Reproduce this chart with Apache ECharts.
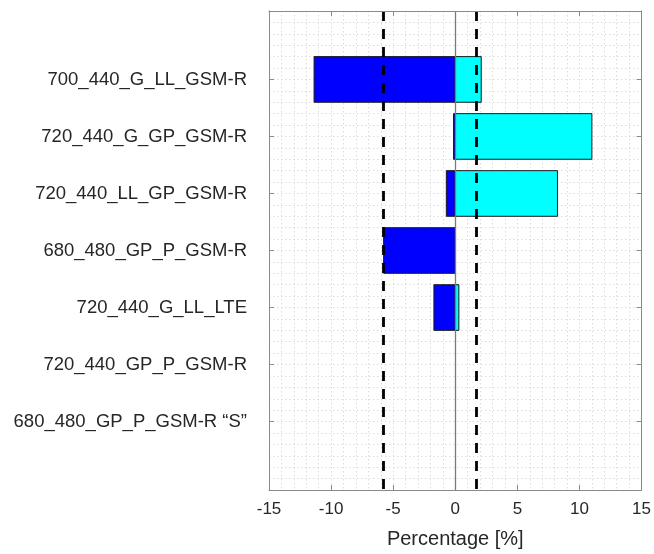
<!DOCTYPE html>
<html>
<head>
<meta charset="utf-8">
<script src="https://cdn.jsdelivr.net/npm/echarts@6/dist/echarts.min.js"></script>
<style>html,body{margin:0;padding:0;background:#fff}#c{width:654px;height:554px}</style>
</head>
<body>
<div id="c"></div>
<script>
const categories = [
  '700_440_G_LL_GSM-R',
  '720_440_G_GP_GSM-R',
  '720_440_LL_GP_GSM-R',
  '680_480_GP_P_GSM-R',
  '720_440_G_LL_LTE',
  '720_440_GP_P_GSM-R',
  '680_480_GP_P_GSM-R \u201cS\u201d'
];
const negativeValues = [-11.37, -0.14, -0.72, -5.77, -1.72, 0, 0];
const positiveValues = [2.09, 11.0, 8.23, 0, 0.29, 0, 0];
const thresholds = [-5.8, 1.7];
const xTicks = [-15, -10, -5, 0, 5, 10, 15];
const yPositions = categories.map((c, i) => i + 1);

const font = '"Liberation Sans", Arial, Helvetica, sans-serif';
const textColor = '#262626';
const frameColor = '#8a8a8a';
const gridLine = {show: true, lineStyle: {color: '#dcdcdc', type: [1.5, 2.5], width: 1}};

function makeData(vals) {
  const out = [];
  vals.forEach((v, i) => { if (v !== 0) out.push([yPositions[i], 0, v]); });
  return out;
}
function renderBar(color) {
  return function (params, api) {
    const y = api.value(0), x0 = api.value(1), x1 = api.value(2);
    const p0 = api.coord([x0, y]);
    const p1 = api.coord([x1, y]);
    const h = api.size([0, 0.8])[1];
    return {
      type: 'rect',
      shape: {x: Math.min(p0[0], p1[0]), y: p0[1] - h / 2, width: Math.abs(p1[0] - p0[0]), height: h},
      style: {fill: color, stroke: '#1a1a1a', lineWidth: 1}
    };
  };
}

const hiddenParts = {
  axisLine: {show: false}, axisTick: {show: false}, axisLabel: {show: false}
};

const chart = echarts.init(document.getElementById('c'), null, {renderer: 'canvas'});
chart.setOption({
  animation: false,
  backgroundColor: '#fff',
  grid: {left: 269, top: 11, right: 11.5, bottom: 62, containLabel: false},
  xAxis: [{
    type: 'value', min: -15, max: 15, interval: 5, position: 'bottom', z: 10,
    axisLine: {show: true, onZero: false, lineStyle: {color: frameColor, width: 1}},
    axisTick: {show: true, inside: true, length: 5, customValues: [-10, -5, 5, 10], lineStyle: {color: frameColor}},
    axisLabel: {customValues: xTicks, margin: 11, fontSize: 17, fontFamily: font, color: textColor},
    splitLine: {show: false},
    name: 'Percentage [%]', nameLocation: 'middle', nameGap: 39,
    nameTextStyle: {fontSize: 20, fontFamily: font, color: textColor}
  }, {
    type: 'value', min: -15, max: 15, interval: 5, position: 'top', z: 10,
    axisLine: {show: true, onZero: false, lineStyle: {color: frameColor, width: 1}},
    axisTick: {show: true, inside: true, length: 5, customValues: [-10, -5, 5, 10], lineStyle: {color: frameColor}},
    axisLabel: {show: false}, splitLine: {show: false}
  }, Object.assign({
    type: 'value', min: -15, max: 15, interval: 1, position: 'bottom', z: 0,
    splitLine: gridLine
  }, hiddenParts)],
  yAxis: [{
    type: 'value', inverse: true, min: -0.2, max: 8.2, interval: 1, position: 'left', z: 10,
    axisLine: {show: true, onZero: false, lineStyle: {color: frameColor, width: 1}},
    axisTick: {show: true, inside: true, length: 5, customValues: yPositions, lineStyle: {color: frameColor}},
    axisLabel: {
      customValues: yPositions, margin: 22, fontSize: 18.5, fontFamily: font, color: textColor,
      formatter: v => categories[Math.round(v) - 1] || ''
    },
    splitLine: {show: false}
  }, {
    type: 'value', inverse: true, min: -0.2, max: 8.2, interval: 1, position: 'right', z: 10,
    axisLine: {show: true, onZero: false, lineStyle: {color: frameColor, width: 1}},
    axisTick: {show: true, inside: true, length: 5, customValues: yPositions, lineStyle: {color: frameColor}},
    axisLabel: {show: false}, splitLine: {show: false}
  }, Object.assign({
    type: 'value', inverse: true, min: -0.2, max: 8.2, interval: 0.2, position: 'left', z: 0,
    splitLine: gridLine
  }, hiddenParts)],
  series: [{
    type: 'custom', name: 'zero', z: 1, data: [],
    renderItem: () => null,
    markLine: {
      silent: true, symbol: 'none', label: {show: false},
      lineStyle: {color: '#7a7a7a', type: 'solid', width: 1.3},
      data: [{xAxis: 0}]
    }
  }, {
    type: 'custom', name: 'Negative', z: 3,
    encode: {x: [1, 2], y: 0},
    data: makeData(negativeValues),
    renderItem: renderBar('#0000ff')
  }, {
    type: 'custom', name: 'Positive', z: 3,
    encode: {x: [1, 2], y: 0},
    data: makeData(positiveValues),
    renderItem: renderBar('#00ffff')
  }, {
    type: 'custom', name: 'thresholds', z: 5, data: [],
    renderItem: () => null,
    markLine: {
      silent: true, symbol: 'none', label: {show: false}, z: 5,
      lineStyle: {color: '#000', type: [10, 8], width: 2.8},
      data: thresholds.map(t => ({xAxis: t}))
    }
  }]
});
</script>
</body>
</html>
